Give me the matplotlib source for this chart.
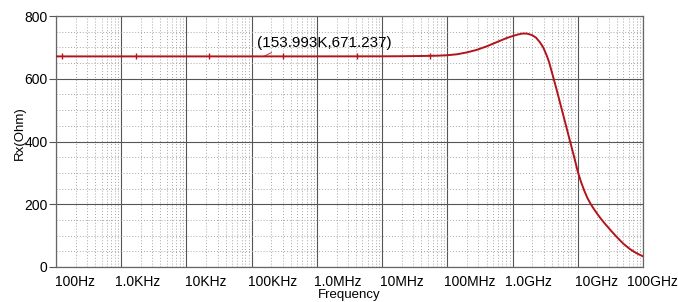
import numpy as np
import matplotlib
matplotlib.use("Agg")
import matplotlib.pyplot as plt
from matplotlib.ticker import FixedLocator, NullFormatter
from matplotlib.transforms import ScaledTranslation

# ---- data ----
log_freq = [2.0, 3.0, 4.0, 5.0, 6.0, 7.0, 7.3, 7.6, 7.85, 8.0, 8.15, 8.3, 8.45, 8.6,
            8.75, 8.9, 9.0, 9.08, 9.15, 9.22, 9.3, 9.36, 9.42, 9.47, 9.52, 9.56,
            9.6, 9.65, 9.7, 9.75, 9.8, 9.85, 9.9, 9.95, 10.0, 10.05, 10.1, 10.15,
            10.2, 10.25, 10.3, 10.35, 10.4, 10.45, 10.5, 10.6, 10.7, 10.8, 10.9, 11.0]
rx_ohm = [671.237, 671.237, 671.237, 671.237, 671.3, 671.5, 671.8, 672.5, 673.5, 675,
          678, 684, 692, 703, 716, 729, 736, 741, 744, 744, 739, 731, 716, 700, 676, 653,
          623, 585, 546, 506, 466, 426, 386, 346, 304, 271, 243, 219, 200, 184, 169,
          155, 142, 130, 118, 95, 74, 57, 44, 34]
marker_log_freq = [2.09, 3.22, 4.35, 5.48, 6.62, 7.74]
marker_rx = [671.237, 671.237, 671.237, 671.237, 671.237, 671.237]

xtick_log = [2, 3, 4, 5, 6, 7, 8, 9, 10, 11]
xtick_labels = ["100Hz", "1.0KHz", "10KHz", "100KHz", "1.0MHz", "10MHz",
                "100MHz", "1.0GHz", "10GHz", "100GHz"]
xtick_dx_px = [-1, -6, -1, -4, -3, -2, -3, -8, -3, -16]
ytick_vals = [0, 200, 400, 600, 800]

cursor_freq = 153.993e3
cursor_val = 671.237
cursor_text = "(153.993K,671.237)"

# ---- plot ----
plt.rcParams['font.family'] = ['Liberation Sans', 'DejaVu Sans']
fig = plt.figure(figsize=(6.78, 3.02), dpi=100)
ax = fig.add_axes([56/678, 35/302, 587/678, 251/302])

freq = 10.0 ** np.array(log_freq)
ax.plot(freq, rx_ohm, color='#b3141c', lw=1.4, solid_capstyle='round',
        solid_joinstyle='round', zorder=5)
ax.plot(10.0 ** np.array(marker_log_freq), marker_rx, ls='none', marker='|',
        ms=4, mew=1.0, color='#b3141c', zorder=6)

ax.set_xscale('log')
ax.set_xlim(1e2, 1e11)
ax.set_ylim(0, 800)

ax.xaxis.set_major_locator(FixedLocator([10.0 ** v for v in xtick_log]))
ax.xaxis.set_minor_locator(FixedLocator([m * 10.0 ** d for d in range(2, 11) for m in range(2, 10)]))
ax.xaxis.set_minor_formatter(NullFormatter())
ax.set_xticks([10.0 ** v for v in xtick_log])
ax.set_xticklabels(xtick_labels)
ax.set_yticks(ytick_vals)
ax.yaxis.set_minor_locator(FixedLocator(list(range(50, 800, 50))))

ax.grid(True, which='major', color='#555555', lw=0.8, ls='-')
ax.grid(True, which='minor', color='#a6a6a6', lw=0.7, ls=(0, (1, 2)))
ax.set_axisbelow(True)

for s in ax.spines.values():
    s.set_color('#666666')
    s.set_linewidth(0.9)

ax.tick_params(axis='x', which='both', length=0, labelsize=10, pad=6, colors='black')
ax.tick_params(axis='y', which='major', length=5, width=0.8, color='#555555',
               labelsize=10, pad=1)
ax.tick_params(axis='y', which='minor', length=0)

for lab, dx in zip(ax.get_xticklabels(), xtick_dx_px):
    lab.set_ha('left')
    lab.set_transform(lab.get_transform() + ScaledTranslation(dx / 100, 0, fig.dpi_scale_trans))

ax.set_xlabel("Frequency", fontsize=9.5, labelpad=0)
ax.set_ylabel("Rx(Ohm)", fontsize=9.5)
ax.yaxis.set_label_coords(-0.052, 0.534)

ax.annotate(cursor_text, xy=(cursor_freq, cursor_val), xytext=(1.2e5, 715),
            fontsize=11, va='center', ha='left', zorder=7,
            arrowprops=dict(arrowstyle='-', color='#b3141c', lw=0.6,
                            shrinkA=0, shrinkB=0, relpos=(0.15, 0.0)))

fig.savefig("out.png", dpi=100, facecolor='white')
